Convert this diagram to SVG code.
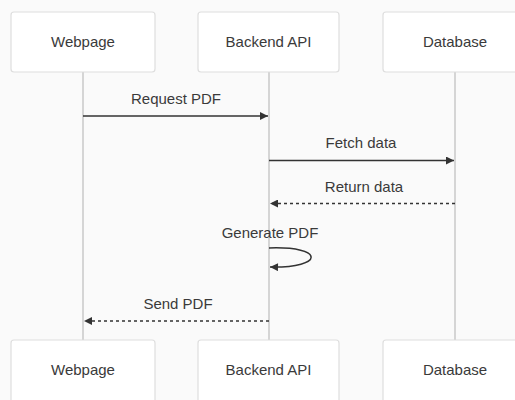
<svg xmlns="http://www.w3.org/2000/svg" width="515" height="400" viewBox="0 0 515 400">
<style>
.box{fill:#ffffff;stroke:#dedede;stroke-width:1.2}
.life{stroke:#c8c8c8;stroke-width:1.5;fill:none}
.lbl{font-family:"Liberation Sans",Arial,sans-serif;font-size:15px;fill:#3a3a3a;text-anchor:middle}
.msg{stroke:#333;stroke-width:1.5;fill:none}
.dash{stroke-dasharray:3,3}
</style>
<defs>
<marker id="ah" viewBox="0 0 10 10" refX="10" refY="5" markerWidth="10" markerHeight="8" markerUnits="userSpaceOnUse" orient="auto">
<path d="M0,0 L10,5 L0,10 z" fill="#333"/>
</marker>
</defs>
<rect width="515" height="400" fill="#fafafa"/>
<g id="lifelines">
<line class="life" x1="83" y1="72" x2="83" y2="340"/>
<line class="life" x1="269" y1="72" x2="269" y2="340"/>
<line class="life" x1="455" y1="72" x2="455" y2="340"/>
</g>
<g id="webpage-top"><rect class="box" x="11" y="12" width="144" height="60" rx="3"/><text class="lbl" x="83" y="47">Webpage</text></g>
<g id="backend-top"><rect class="box" x="198" y="12" width="141" height="60" rx="3"/><text class="lbl" x="268.5" y="47">Backend API</text></g>
<g id="database-top"><rect class="box" x="383" y="12" width="144" height="60" rx="3"/><text class="lbl" x="455" y="47">Database</text></g>
<g id="webpage-bottom"><rect class="box" x="11" y="340" width="144" height="66" rx="3"/><text class="lbl" x="83" y="375">Webpage</text></g>
<g id="backend-bottom"><rect class="box" x="198" y="340" width="141" height="66" rx="3"/><text class="lbl" x="268.5" y="375">Backend API</text></g>
<g id="database-bottom"><rect class="box" x="383" y="340" width="144" height="66" rx="3"/><text class="lbl" x="455" y="375">Database</text></g>
<g id="connectors">
<line class="msg" x1="83" y1="116" x2="268" y2="116" marker-end="url(#ah)"/>
<text class="lbl" x="176" y="104">Request PDF</text>
<line class="msg" x1="269" y1="160.5" x2="454" y2="160.5" marker-end="url(#ah)"/>
<text class="lbl" x="361" y="148">Fetch data</text>
<line class="msg dash" x1="455" y1="203.5" x2="270" y2="203.5" marker-end="url(#ah)"/>
<text class="lbl" x="364" y="192">Return data</text>
<text class="lbl" x="270" y="238">Generate PDF</text>
<path class="msg" d="M269,248 C325,246 325,268 270,267" marker-end="url(#ah)"/>
<line class="msg dash" x1="269" y1="321" x2="84" y2="321" marker-end="url(#ah)"/>
<text class="lbl" x="178" y="309">Send PDF</text>
</g>
</svg>
